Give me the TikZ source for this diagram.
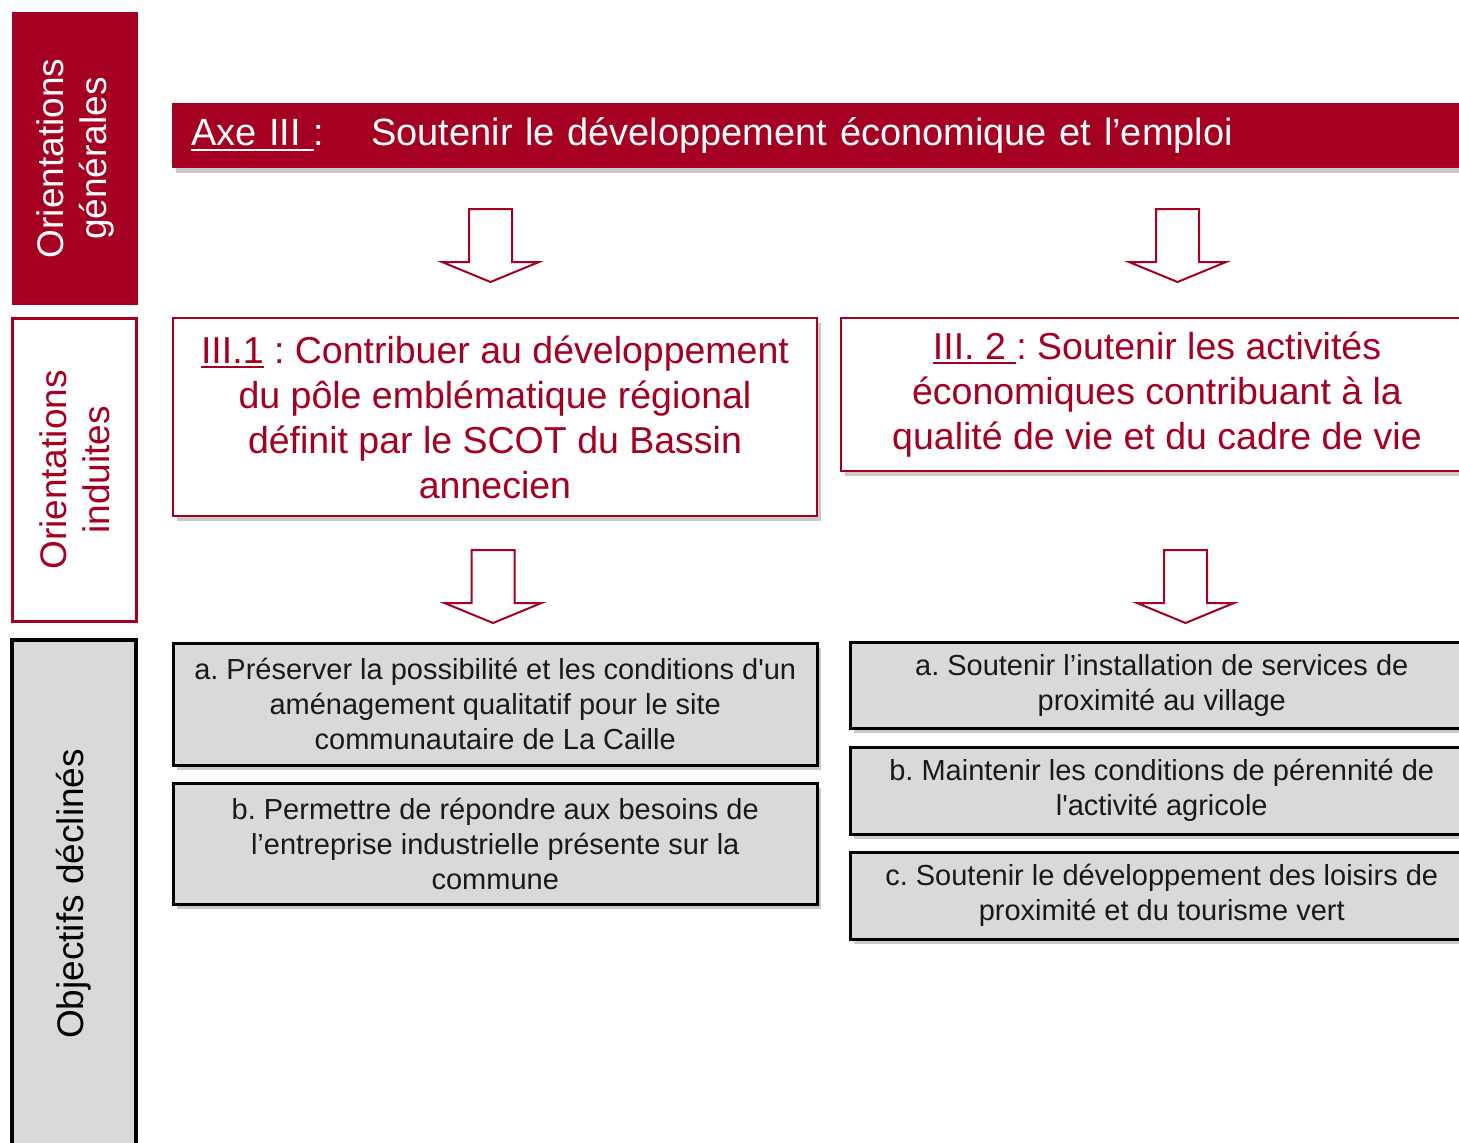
\documentclass[tikz,border=0pt]{standalone}
\usepackage{fontspec}
\setmainfont{Liberation Sans}[Ligatures=TeXOff]
\usetikzlibrary{shadows}
\definecolor{axered}{HTML}{A50021}
\definecolor{boxgray}{HTML}{D9D9D9}
\newcommand\ulx[2][2.5pt]{\leavevmode\setbox0=\hbox{#2}\rlap{\rule[-5pt]{\wd0}{#1}}\box0}
\frenchspacing
\begin{document}
\begin{tikzpicture}[x=1pt,y=-1pt,
  colbox/.style={rotate=90, align=center, inner sep=0pt, font=\fontsize{37}{43}\selectfont},
  softshadow/.style={drop shadow={shadow xshift=4pt, shadow yshift=-5pt, opacity=0.3, fill=black!70}},
  redbox/.style={anchor=north west, draw=axered, line width=2pt, fill=white, text=axered, align=center, inner sep=0pt, font=\fontsize{37.5}{45}\selectfont, softshadow},
  graybox/.style={anchor=north west, draw=black, line width=2.5pt, fill=boxgray, text=black!90, align=center, inner sep=0pt, font=\fontsize{29}{35}\selectfont, softshadow},
  arrowline/.style={draw=axered, line width=2pt, fill=white, line join=miter},
  downarrow/.pic={\path[arrowline] (-21.5,0) -- (21.5,0) -- (21.5,53) -- (48.5,53) -- (0,73) -- (-48.5,53) -- (-21.5,53) -- cycle;}
]
\useasboundingbox (0,0) rectangle (1459,1143);
\clip (0,0) rectangle (1459,1143);

% left column
\node[colbox, fill=axered, text=white, minimum width=293pt, minimum height=126pt] (og) at (75,158.5) {Orientations\\générales};
\node[colbox, draw=axered, line width=3pt, fill=white, text=axered, minimum width=303pt, minimum height=124pt] (oi) at (74.5,470) {Orientations\\induites};
\node[colbox, draw=black, line width=4pt, fill=boxgray, text=black, minimum width=508pt, minimum height=124pt] (od) at (73.5,894) {Objectifs déclinés};

% axe bar
\node[anchor=north west, fill=axered, text=white, minimum height=65pt, text width=1262pt, inner xsep=19pt, inner ysep=0pt, align=left, font=\fontsize{38}{45}\selectfont, softshadow] (axe) at (172,103) {\makebox[180pt][l]{\ulx[2.2pt]{Axe III\ }:}Soutenir le développement économique et l’emploi};

% orientations induites
\node[redbox, minimum width=644pt, minimum height=198pt] (i1) at (172,317) {\ulx{III.1}\ : Contribuer au développement\\du pôle emblématique régional\\définit par le SCOT du Bassin\\annecien};
\node[redbox, minimum width=632pt, minimum height=153pt] (i2) at (840,317) {\ulx{III. 2\ }: Soutenir les activités\\économiques contribuant à la\\qualité de vie et du cadre de vie};

% objectifs
\node[graybox, minimum width=644pt, minimum height=122pt] (a1) at (172,642) {a. Préserver la possibilité et les conditions d'un\\aménagement qualitatif pour le site\\communautaire de La Caille};
\node[graybox, minimum width=644pt, minimum height=121pt] (b1) at (172,782) {b. Permettre de répondre aux besoins de\\l’entreprise industrielle présente sur la\\commune};
\node[graybox, minimum width=623pt, minimum height=86pt] (a2) at (849,641) {a. Soutenir l’installation de services de\\proximité au village};
\node[graybox, minimum width=623pt, minimum height=87pt] (b2) at (849,746) {b. Maintenir les conditions de pérennité de\\l'activité agricole};
\node[graybox, minimum width=623pt, minimum height=87pt] (c2) at (849,851) {c. Soutenir le développement des loisirs de\\proximité et du tourisme vert};

% block arrows
\coordinate (t1) at (490.5,209);
\coordinate (t2) at (1177.5,209);
\coordinate (t3) at (493,550);
\coordinate (t4) at (1185.5,550);
\pic at (t1) {downarrow};
\pic at (t2) {downarrow};
\pic at (t3) {downarrow};
\pic at (t4) {downarrow};
\end{tikzpicture}
\end{document}
